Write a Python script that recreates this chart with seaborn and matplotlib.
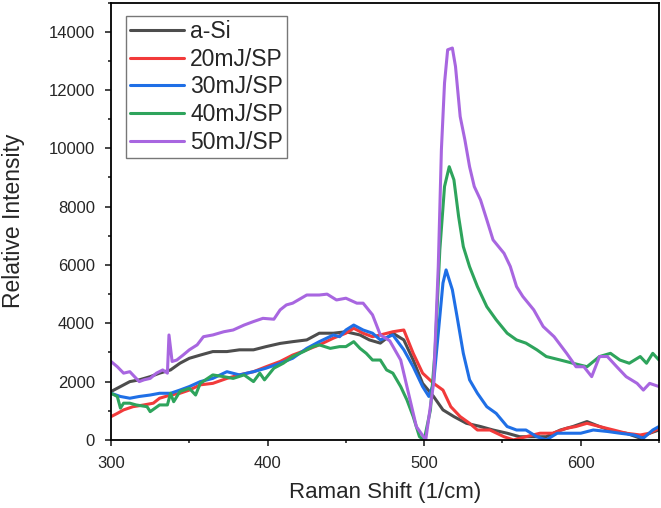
import pandas as pd
import matplotlib.pyplot as plt
import seaborn as sns
from matplotlib.ticker import MultipleLocator

# === Data (Raman shift in 1/cm, relative intensity) ===
asi_x = [300, 306, 312, 318, 325, 331, 338, 344, 350, 357, 365, 374, 382, 391, 399, 408,
         416, 425, 433, 442, 450, 459, 465, 472, 480, 487, 493, 499, 506, 512, 519, 527,
         536, 544, 553, 561, 570, 578, 587, 595, 604, 612, 621, 629, 638, 644, 650]
asi_y = [1660, 1830, 2000, 2060, 2170, 2290, 2400, 2630, 2800, 2910, 3030, 3030, 3090, 3090,
         3200, 3310, 3370, 3430, 3660, 3660, 3710, 3600, 3430, 3320, 3660, 3430, 2740, 1940,
         1490, 1030, 800, 570, 460, 340, 230, 110, 110, 110, 340, 460, 630, 460, 290, 230,
         60, 230, 340]

mj20_x = [300, 304, 308, 314, 321, 327, 331, 338, 344, 350, 357, 365, 374, 382, 391, 399,
          408, 416, 425, 433, 442, 450, 455, 461, 467, 472, 480, 487, 493, 499, 506, 512,
          517, 523, 529, 534, 542, 551, 557, 565, 574, 582, 591, 597, 604, 612, 621, 629,
          638, 644, 650]
mj20_y = [800, 910, 1030, 1140, 1200, 1260, 1430, 1540, 1600, 1710, 1890, 1940, 2110, 2230,
          2340, 2510, 2690, 2910, 3090, 3260, 3490, 3660, 3830, 3660, 3540, 3600, 3710, 3770,
          2970, 2290, 1940, 1710, 1140, 800, 570, 340, 340, 110, 0, 110, 230, 230, 400, 460,
          570, 460, 340, 230, 170, 230, 400]

mj30_x = [300, 306, 312, 318, 325, 331, 338, 344, 350, 357, 365, 374, 382, 391, 399, 408,
          416, 425, 433, 442, 446, 450, 455, 461, 467, 472, 480, 487, 493, 499, 503, 506,
          509, 512, 514, 518, 521, 525, 529, 534, 540, 546, 553, 559, 565, 572, 578, 585,
          591, 600, 608, 617, 625, 634, 640, 646, 650]
mj30_y = [1600, 1490, 1430, 1490, 1540, 1600, 1600, 1710, 1830, 2000, 2110, 2340, 2230, 2340,
          2460, 2630, 2800, 3140, 3370, 3600, 3540, 3770, 3940, 3770, 3660, 3430, 3600, 3090,
          2510, 1830, 1490, 1940, 3660, 5380, 5830, 5150, 4230, 2970, 2060, 1600, 1140, 910,
          460, 340, 340, 110, 0, 230, 230, 230, 340, 290, 230, 170, 60, 340, 460]

mj40_x = [300, 304, 306, 308, 312, 316, 323, 325, 331, 336, 338, 340, 344, 350, 354, 357,
          365, 372, 378, 385, 391, 395, 398, 404, 410, 416, 423, 429, 433, 440, 446, 450,
          455, 459, 463, 467, 472, 476, 480, 485, 489, 493, 497, 500, 504, 507, 510, 513,
          516, 519, 522, 525, 529, 534, 540, 546, 553, 559, 565, 572, 578, 587, 595, 604,
          612, 619, 625, 631, 638, 642, 646, 650]
mj40_y = [1600, 1490, 1090, 1260, 1260, 1200, 1140, 970, 1200, 1200, 1600, 1310, 1660, 1770,
          1540, 1940, 2230, 2170, 2110, 2230, 2000, 2290, 2060, 2460, 2630, 2860, 3030, 3200,
          3260, 3140, 3200, 3200, 3370, 3140, 2970, 2740, 2740, 2400, 2290, 1830, 1370, 800,
          110, 0, 1030, 3090, 6520, 8690, 9370, 8920, 7660, 6630, 5940, 5260, 4570, 4120,
          3660, 3430, 3320, 3090, 2860, 2740, 2630, 2510, 2860, 2970, 2740, 2630, 2860, 2630,
          2970, 2740]

mj50_x = [300, 304, 308, 312, 315, 318, 321, 325, 329, 333, 336, 337, 339, 342, 346, 350,
          355, 359, 365, 372, 378, 385, 391, 397, 404, 408, 412, 416, 425, 433, 438, 444,
          450, 457, 461, 467, 472, 478, 485, 491, 495, 501, 506, 509, 511, 513, 515, 518,
          520, 523, 526, 529, 532, 536, 540, 544, 551, 555, 559, 563, 570, 576, 583, 591,
          597, 602, 607, 612, 617, 623, 629, 636, 640, 644, 650]
mj50_y = [2690, 2510, 2290, 2340, 2170, 2000, 2060, 2110, 2290, 2400, 2290, 3600, 2690, 2740,
          2910, 3090, 3260, 3540, 3600, 3710, 3770, 3940, 4060, 4170, 4140, 4460, 4630, 4690,
          4970, 4970, 5000, 4800, 4860, 4690, 4690, 4290, 3600, 3400, 2740, 1370, 460, 0,
          1940, 5940, 9950, 12240, 13380, 13440, 12810, 11090, 10290, 9370, 8690, 8230, 7550,
          6860, 6400, 5950, 5260, 4920, 4460, 3890, 3540, 2970, 2510, 2510, 2170, 2860, 2860,
          2510, 2170, 1940, 1710, 1940, 1830]

labels = ["a-Si", "20mJ/SP", "30mJ/SP", "40mJ/SP", "50mJ/SP"]
colors = ["#4d4d4d", "#f23a3a", "#1f6fe6", "#2ea45c", "#a866e0"]

# === Long-form table for seaborn ===
series = [(asi_x, asi_y), (mj20_x, mj20_y), (mj30_x, mj30_y), (mj40_x, mj40_y), (mj50_x, mj50_y)]
frames = []
for name, (xs, ys) in zip(labels, series):
    frames.append(pd.DataFrame({"shift": xs, "intensity": ys, "sample": name}))
df = pd.concat(frames, ignore_index=True)

sns.set_style("ticks")
plt.rcParams["font.family"] = ["Liberation Sans", "DejaVu Sans"]

fig = plt.figure(figsize=(6.61, 5.08), dpi=100)
ax = fig.add_axes([0.168, 0.134, 0.829, 0.861])

sns.lineplot(data=df, x="shift", y="intensity", hue="sample", hue_order=labels,
             palette=dict(zip(labels, colors)), linewidth=2.2, estimator=None,
             sort=True, ax=ax)

ax.set_xlim(300, 650)
ax.set_ylim(0, 15000)
ax.xaxis.set_major_locator(MultipleLocator(100))
ax.xaxis.set_minor_locator(MultipleLocator(50))
ax.yaxis.set_major_locator(MultipleLocator(2000))
ax.yaxis.set_minor_locator(MultipleLocator(1000))
ax.tick_params(which="major", direction="out", length=4.5, width=1.2, labelsize=12, pad=7)
ax.tick_params(which="minor", direction="out", length=2.5, width=1.2)
for sp in ax.spines.values():
    sp.set_visible(True)
    sp.set_linewidth(1.3)
    sp.set_color("black")

ax.set_xlabel("Raman Shift (1/cm)", fontsize=16, labelpad=8)
ax.set_ylabel("Relative Intensity", fontsize=16.5, labelpad=17)

# === Legend box in the upper left ===
leg = ax.legend(loc="upper left", bbox_to_anchor=(0.027, 0.970), borderaxespad=0,
                fontsize=16.5, frameon=True, fancybox=False, edgecolor="#777777",
                framealpha=1, handlelength=2.35, handletextpad=0.25, labelspacing=0.2,
                borderpad=0.2)
leg.get_frame().set_linewidth(1.0)

plt.savefig("out.png", dpi=100)
plt.close()
